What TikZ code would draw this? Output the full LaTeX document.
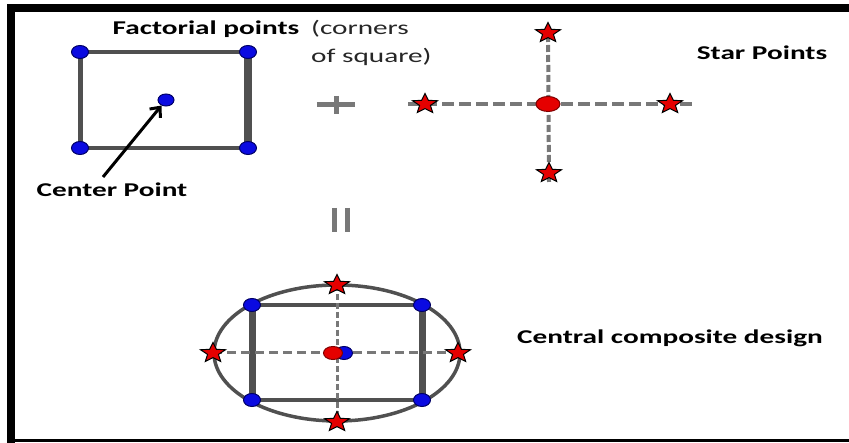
\documentclass[tikz,border=0pt]{standalone}
\usepackage{fontspec}
\setmainfont[FakeStretch=1.5]{Carlito}
\usetikzlibrary{shapes.geometric,arrows.meta,backgrounds}
\definecolor{dotblue}{RGB}{10,10,225}
\definecolor{linegray}{RGB}{80,80,80}
\definecolor{dashgray}{RGB}{120,120,120}
\tikzset{
  dotnode/.style={ellipse,fill=dotblue,draw=blue!40!black,line width=1pt,minimum width=17pt,minimum height=13pt,inner sep=0pt},
  starnode/.style={star,star points=5,star point ratio=2.3,fill=red!90!black,draw=black,line width=1pt,minimum size=21pt,inner sep=0pt,xscale=1.25},
  redblob/.style={ellipse,fill=red!90!black,draw=red!50!black,line width=1pt,minimum width=24pt,minimum height=15pt,inner sep=0pt},
  sqline/.style={draw=linegray,line width=3.5pt},
  sideline/.style={draw=linegray,line width=6pt},
  dashline/.style={draw=dashgray,line width=4pt,dash pattern=on 12pt off 5pt},
  vdashline/.style={draw=dashgray,line width=4pt,dash pattern=on 7pt off 3pt},
  lbl/.style={font=\fontsize{19.5}{23}\selectfont\bfseries,inner sep=0pt,text=black},
  plain/.style={font=\fontsize{19.5}{28}\selectfont,inner sep=0pt,text=black!85,align=left},
  signbar/.style={draw=dashgray,line width=5pt}
}
\begin{document}
\begin{tikzpicture}[x=1pt,y=-1pt]
\useasboundingbox (0,0) rectangle (849,443);
\begin{pgfonlayer}{background}
\fill[white] (0,0) rectangle (849,443);
\end{pgfonlayer}
% frame
\fill[black] (7,4) rectangle (849,12);
\fill[black] (7,4) rectangle (15,443);
\fill[black] (7,439) rectangle (849,442);

% ---------- factorial square ----------
\node[dotnode] (f1) at (80,52) {};
\node[dotnode] (f2) at (248,52) {};
\node[dotnode] (f3) at (80,148) {};
\node[dotnode] (f4) at (248,148) {};
\node[dotnode,minimum width=16pt,minimum height=12pt] (fc) at (166,100) {};
\begin{pgfonlayer}{background}
\draw[sqline] (f1.center) -- (f2.center);
\draw[sqline] (f3.center) -- (f4.center);
\draw[sideline,line width=5pt] (f1.center) -- (f3.center);
\draw[sideline,line width=8pt] (f2.center) -- (f4.center);
\end{pgfonlayer}
\coordinate (atail) at (103,177);
\draw[black,line width=3pt,-{Straight Barb[length=8pt,width=14pt]}] (atail) -- (fc);

\node[lbl] (tfact) at (206,29) {Factorial points};
\node[plain,anchor=west] (tcorn) at (311,43) {(corners\\of square)};
\node[lbl] (tcent) at (112,190) {Center Point};

% plus sign
\node[inner sep=0pt,minimum width=38pt,minimum height=18pt] (plus) at (336,105) {};
\draw[signbar] (plus.west) -- (plus.east);
\draw[signbar] (plus.north) -- (plus.south);

% ---------- star points ----------
\node[starnode] (st) at (548,33) {};
\node[starnode] (sb) at (549,173) {};
\node[starnode] (sl) at (425,104) {};
\node[starnode] (sr) at (670,104) {};
\node[redblob] (sc) at (548,104) {};
\coordinate (hl) at (408,104);
\coordinate (hr) at (693,104);
\coordinate (vt) at (548,25);
\coordinate (vb) at (549,182);
\begin{pgfonlayer}{background}
\draw[dashline] (hl) -- (hr);
\draw[vdashline] (vt) -- (vb);
\end{pgfonlayer}
\node[lbl] (tstar) at (762,53) {Star Points};

% equals sign (rotated)
\node[inner sep=0pt,minimum width=13pt,minimum height=24pt] (eq) at (341,220) {};
\draw[signbar] (eq.north west) -- (eq.south west);
\draw[signbar] (eq.north east) -- (eq.south east);

% ---------- central composite ----------
\coordinate (cc) at (337,353);
\node[dotnode] (c1) at (252,305) {};
\node[dotnode] (c2) at (422,305) {};
\node[dotnode] (c3) at (252,400) {};
\node[dotnode] (c4) at (422,400) {};
\node[starnode] (ct) at (337,285) {};
\node[starnode] (cb) at (337,422) {};
\node[starnode] (cl) at (213,353) {};
\node[starnode] (cr) at (458,353) {};
\node[dotnode] (ccb) at (344,353) {};
\node[redblob,minimum width=19pt,minimum height=13pt] (ccr) at (333,353) {};
\begin{pgfonlayer}{background}
\draw[draw=linegray,line width=3.5pt] (cc) ellipse [x radius=123pt,y radius=68pt];
\draw[sqline] (c1.center) -- (c2.center);
\draw[sqline] (c3.center) -- (c4.center);
\draw[sideline,line width=7pt] (c1.center) -- (c3.center);
\draw[sideline,line width=7pt] (c2.center) -- (c4.center);
\draw[dashgray,line width=3pt,dash pattern=on 9pt off 5pt] (cl.center) -- (cr.center);
\draw[dashgray,line width=3pt,dash pattern=on 6pt off 3pt] (ct.center) -- (cb.center);
\end{pgfonlayer}
\node[lbl] (tccd) at (670,338) {Central composite design};
\end{tikzpicture}
\end{document}
